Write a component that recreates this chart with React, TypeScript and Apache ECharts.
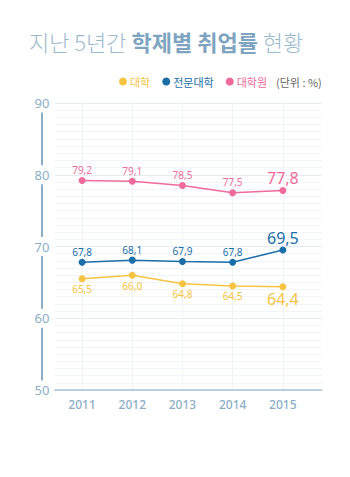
import React, { useEffect, useRef } from "react";
import * as echarts from "echarts";

const years = [2011, 2012, 2013, 2014, 2015];
const univ = [65.5, 66.0, 64.8, 64.5, 64.4];
const college = [67.8, 68.1, 67.9, 67.8, 69.5];
const grad = [79.2, 79.1, 78.5, 77.5, 77.8];
const yTicks = [50, 60, 70, 80, 90];

const YELLOW = "#f6c343";
const BLUE = "#1b6ea8";
const PINK = "#ef6b9b";
const AXIS = "#8caec5";

const fmt = (v: number) => v.toFixed(1).replace(".", ",");

function makeSeries(name: string, vals: number[], color: string, pos: "top" | "bottom") {
  return {
    name,
    type: "line",
    data: vals.map((v, i) => ({
      value: [years[i], v],
      label: i === vals.length - 1 ? { fontSize: 16, distance: 1 } : undefined,
    })),
    symbol: "circle",
    symbolSize: 7,
    lineStyle: { color, width: 1.5 },
    itemStyle: { color },
    label: {
      show: true,
      position: pos,
      distance: 2,
      color,
      fontSize: 10,
      fontFamily: "Noto Sans, sans-serif",
      formatter: (p: any) => fmt(p.value[1]),
    },
  };
}

export default function App() {
  const ref = useRef<HTMLDivElement>(null);
  useEffect(() => {
    const chart = echarts.init(ref.current!, null, { renderer: "svg" });
    chart.setOption({
      animation: false,
      backgroundColor: "#fff",
      textStyle: { fontFamily: "Noto Sans CJK KR, Noto Sans, sans-serif" },
      graphic: [
        {
          type: "text",
          left: 29,
          top: 30,
          style: {
            text: "{l|지난 5년간 }{b|학제별 취업률}{l| 현황}",
            rich: {
              l: { fontSize: 22, fill: "#9dbacd", fontFamily: "Noto Sans CJK KR", fontWeight: 300 },
              b: { fontSize: 22, fill: "#7ea4bf", fontFamily: "Noto Sans CJK KR", fontWeight: "bold" },
            },
          },
        },
        {
          type: "text",
          left: 276,
          top: 76,
          style: {
            text: "(단위 : %)",
            fontSize: 11,
            fill: "#666",
            fontFamily: "Noto Sans CJK KR",
          },
        },
      ],
      legend: {
        left: 119,
        top: 76,
        icon: "circle",
        itemWidth: 8,
        itemHeight: 8,
        itemGap: 12,
        padding: 0,
        textStyle: { fontSize: 11, padding: [0, 0, 0, -2] },
        data: [
          { name: "대학", textStyle: { color: YELLOW } },
          { name: "전문대학", textStyle: { color: BLUE } },
          { name: "대학원", textStyle: { color: PINK } },
        ],
      },
      grid: { left: 55, right: 28, top: 103, bottom: 87, containLabel: false },
      xAxis: {
        type: "value",
        min: 2010.46,
        max: 2015.78,
        axisLine: { show: true, lineStyle: { color: "#a9c4d6", width: 1.5 } },
        axisTick: { show: false, customValues: years },
        axisLabel: {
          customValues: years,
          formatter: (v: number) => String(v),
          color: AXIS,
          fontSize: 12,
          fontWeight: 500,
          margin: 8,
          fontFamily: "Noto Sans, sans-serif",
        },
        splitLine: { show: true, lineStyle: { color: "#eef3f6", width: 1 } },
      },
      yAxis: {
        type: "value",
        min: 50,
        max: 90,
        interval: 10,
        offset: 13,
        axisLine: { show: true, lineStyle: { color: AXIS, width: 2 } },
        axisTick: { show: false },
        axisLabel: {
          color: AXIS,
          fontSize: 13,
          margin: 0,
          align: "center",
          backgroundColor: "#fff",
          padding: [3, 1, 3, 1],
          fontFamily: "Noto Sans, sans-serif",
          customValues: yTicks,
        },
        splitLine: { show: true, lineStyle: { color: "#e4ecf1", width: 1 } },
        minorTick: { show: false, splitNumber: 10 },
        minorSplitLine: { show: true, lineStyle: { color: "#f1f5f8", width: 1 } },
      },
      series: [
        makeSeries("대학", univ, YELLOW, "bottom"),
        makeSeries("전문대학", college, BLUE, "top"),
        makeSeries("대학원", grad, PINK, "top"),
      ],
    });
    return () => chart.dispose();
  }, []);
  return <div ref={ref} style={{ width: 350, height: 477, margin: -8 }} />;
}
